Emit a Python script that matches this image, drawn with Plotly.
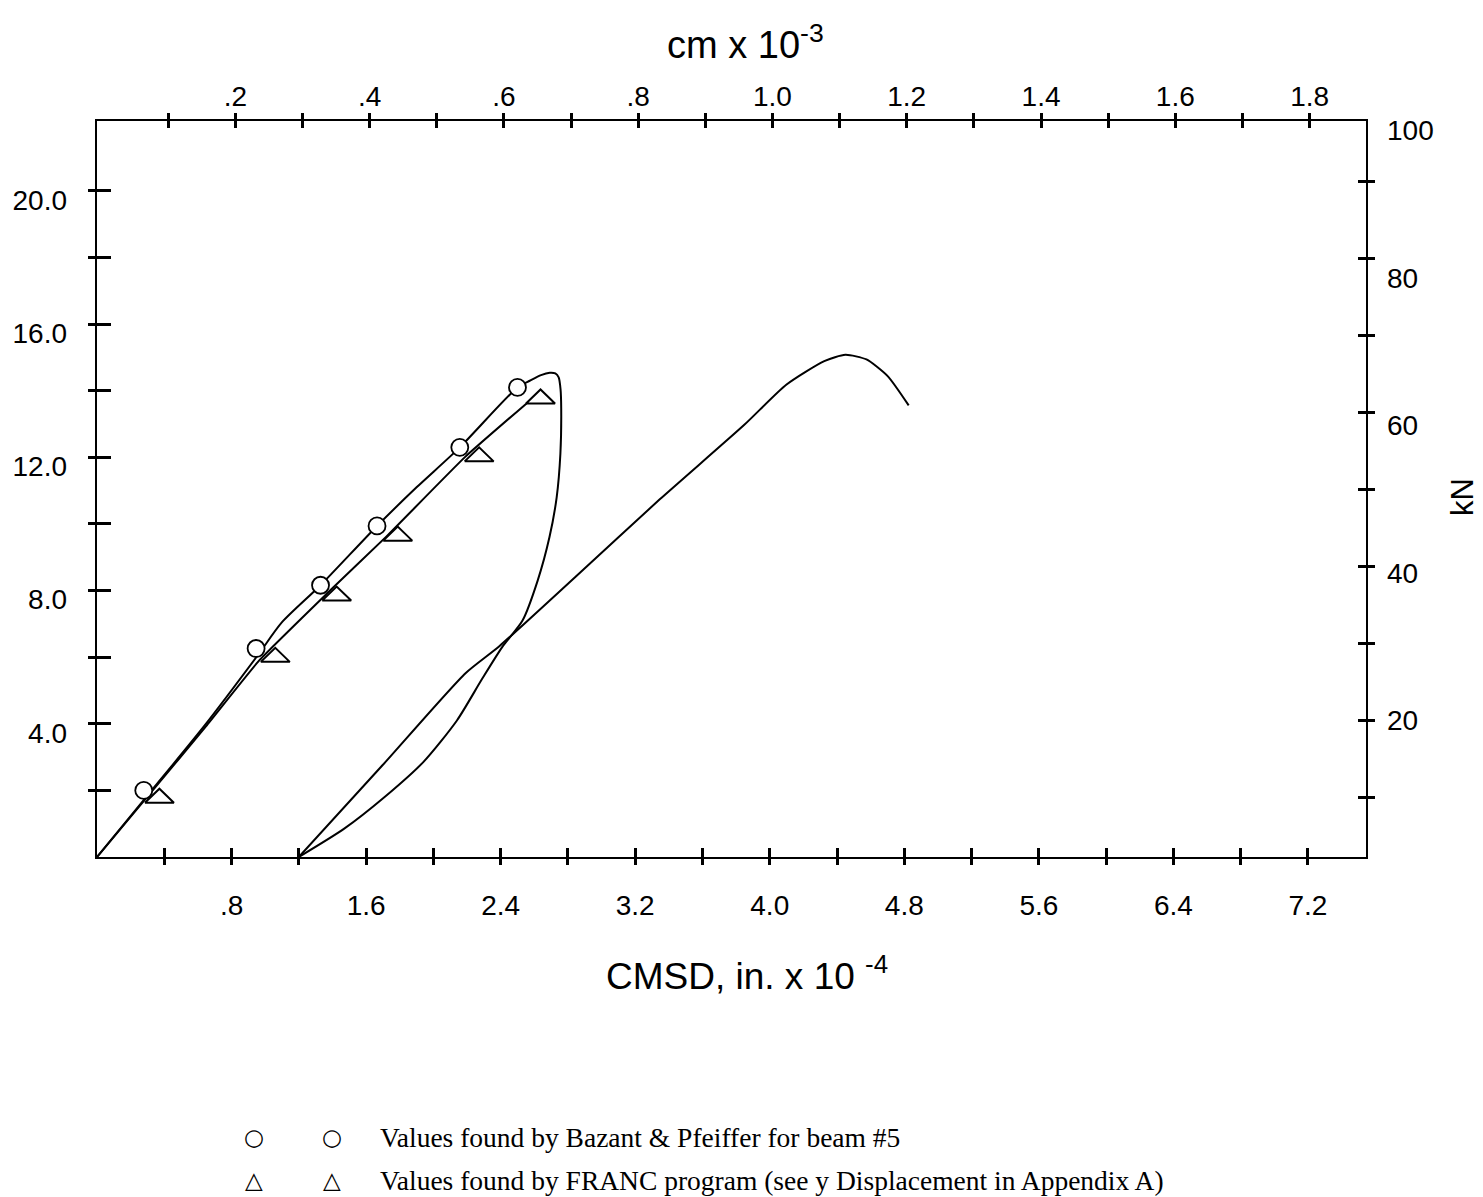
import plotly.graph_objects as go

# ---------------- data (CMSD in x1e-4  vs  load in kips) ----------------
bazant_x = [0.278, 0.946, 1.329, 1.665, 2.157, 2.500]
bazant_y = [2.00, 6.26, 8.16, 9.94, 12.30, 14.10]

franc_x = [0.371, 1.060, 1.425, 1.788, 2.272, 2.637]
franc_y = [1.84, 6.07, 7.91, 9.71, 12.09, 13.83]

# curve through the Bazant values, with the unloading loop
bazant_curve_x = [0.0, 0.325, 0.645, 0.955, 1.10, 1.329, 1.665, 1.90, 2.157, 2.50, 2.573,
                  2.64, 2.692, 2.725, 2.745, 2.756, 2.760, 2.755, 2.733, 2.690, 2.620,
                  2.530, 2.410, 2.290, 2.140, 1.940, 1.710, 1.470, 1.20]
bazant_curve_y = [0.0, 2.00, 3.98, 6.05, 7.05, 8.16, 9.94, 11.10, 12.30, 14.10, 14.30,
                  14.47, 14.54, 14.52, 14.40, 14.05, 13.47, 12.10, 10.80, 9.60, 8.30,
                  7.10, 6.31, 5.35, 4.10, 2.85, 1.80, 0.85, 0.0]

# curve through the FRANC values
franc_curve_x = [0.0, 0.331, 0.649, 0.966, 1.373, 1.720, 2.186, 2.554]
franc_curve_y = [0.0, 2.00, 3.93, 5.91, 7.94, 9.62, 12.00, 13.62]

# reloading curve
reload_x = [1.20, 1.70, 2.191, 2.392, 2.844, 3.346, 3.847, 4.098, 4.324, 4.450, 4.575, 4.701, 4.826]
reload_y = [0.0, 2.77, 5.52, 6.33, 8.41, 10.74, 12.97, 14.18, 14.89, 15.08, 14.94, 14.44, 13.56]

# tick values / labels
bottom_ticks = [0.4, 0.8, 1.2, 1.6, 2.0, 2.4, 2.8, 3.2, 3.6, 4.0, 4.4, 4.8, 5.2, 5.6, 6.0, 6.4, 6.8, 7.2]
bottom_text = ["", ".8", "", "1.6", "", "2.4", "", "3.2", "", "4.0", "", "4.8", "", "5.6", "", "6.4", "", "7.2"]
top_ticks = [0.1, 0.2, 0.3, 0.4, 0.5, 0.6, 0.7, 0.8, 0.9, 1.0, 1.1, 1.2, 1.3, 1.4, 1.5, 1.6, 1.7, 1.8]
top_text = ["", ".2", "", ".4", "", ".6", "", ".8", "", "1.0", "", "1.2", "", "1.4", "", "1.6", "", "1.8"]
left_ticks = [2, 4, 6, 8, 10, 12, 14, 16, 18, 20]
left_label_vals = [4, 8, 12, 16, 20]
left_label_text = ["4.0", "8.0", "12.0", "16.0", "20.0"]
right_ticks = [10, 20, 30, 40, 50, 60, 70, 80, 90]
right_label_vals = [20, 40, 60, 80, 100]
right_label_text = ["20", "40", "60", "80", "100"]

legend_rows = ["Values found by Bazant & Pfeiffer for beam #5",
               "Values found by FRANC program (see y Displacement in Appendix A)"]
legend_syms = ["○", "△"]

# ---------------- layout geometry ----------------
W, H = 1483, 1197
L, R, T, B = 97, 1366, 121, 857


def px_x(p):
    return (p - L) / (R - L)


def px_y(p):
    return (B - p) / (B - T)


X_RANGE = [0.0, 7.545]
Y_RANGE = [0.0, 22.1]
TOP_RANGE = [-0.006, 1.884]
RT_TICK_RANGE = [2.2, 97.9]
RT_LABEL_RANGE = [1.42, 101.3]
LEFT_LABEL_RANGE = [0.27, 22.37]

SANS = "Liberation Sans, Arial, sans-serif"
SERIF = "Liberation Serif, Times New Roman, serif"
TICKFONT = dict(family=SANS, size=28, color="black")

fig = go.Figure()

line_style = dict(color="black", width=2)
fig.add_trace(go.Scatter(x=franc_curve_x, y=franc_curve_y, mode="lines",
                         line=dict(shape="spline", smoothing=0.4, **line_style),
                         showlegend=False, hoverinfo="skip"))
fig.add_trace(go.Scatter(x=bazant_curve_x, y=bazant_curve_y, mode="lines",
                         line=dict(shape="spline", smoothing=0.7, **line_style),
                         showlegend=False, hoverinfo="skip"))
fig.add_trace(go.Scatter(x=reload_x, y=reload_y, mode="lines",
                         line=dict(shape="spline", smoothing=0.6, **line_style),
                         showlegend=False, hoverinfo="skip"))

# flattened open triangles around the FRANC values
hw = 14.5 * (X_RANGE[1] - X_RANGE[0]) / (R - L)
hh = 7.0 * (Y_RANGE[1] - Y_RANGE[0]) / (B - T)
tri_x, tri_y = [], []
for xv, yv in zip(franc_x, franc_y):
    tri_x += [xv - hw, xv + hw, xv, xv - hw, None]
    tri_y += [yv - hh, yv - hh, yv + hh, yv - hh, None]
fig.add_trace(go.Scatter(x=tri_x, y=tri_y, mode="lines",
                         line=dict(color="black", width=2),
                         fill="toself", fillcolor="white",
                         showlegend=False, hoverinfo="skip"))

fig.add_trace(go.Scatter(x=bazant_x, y=bazant_y, mode="markers",
                         marker=dict(symbol="circle", size=17, color="white",
                                     line=dict(color="black", width=1.8)),
                         showlegend=False, hoverinfo="skip"))

# dummy traces so the decorative axes exist
for xa, ya in [("x2", "y"), ("x3", "y"), ("x4", "y"), ("x", "y2"), ("x", "y3"),
               ("x", "y4"), ("x", "y5"), ("x", "y6")]:
    fig.add_trace(go.Scatter(x=[None], y=[None], xaxis=xa, yaxis=ya, mode="lines",
                             showlegend=False, hoverinfo="skip"))

common = dict(showgrid=False, zeroline=False, fixedrange=True, tickcolor="black",
              linecolor="black", tickfont=TICKFONT)

fig.update_layout(
    width=W, height=H,
    margin=dict(l=L, r=W - R, t=T, b=H - B, pad=0),
    paper_bgcolor="white", plot_bgcolor="white",
    showlegend=False,
    xaxis=dict(range=X_RANGE, tickmode="array", tickvals=bottom_ticks, ticktext=bottom_text,
               ticks="outside", ticklen=6, tickwidth=3, showline=True, linewidth=2,
               ticklabelstandoff=16, **common),
    xaxis3=dict(range=X_RANGE, overlaying="x", side="bottom", anchor="y",
                tickmode="array", tickvals=bottom_ticks, showticklabels=False,
                ticks="inside", ticklen=9, tickwidth=3, showline=False, **common),
    xaxis2=dict(range=TOP_RANGE, overlaying="x", side="top", anchor="y",
                tickmode="array", tickvals=top_ticks, ticktext=top_text,
                ticks="inside", ticklen=7, tickwidth=3, showline=True, linewidth=2,
                ticklabelstandoff=2, **common),
    xaxis4=dict(range=TOP_RANGE, overlaying="x", side="top", anchor="y",
                tickmode="array", tickvals=top_ticks, showticklabels=False,
                ticks="outside", ticklen=7, tickwidth=3, showline=False, **common),
    yaxis=dict(range=Y_RANGE, tickmode="array", tickvals=left_ticks, showticklabels=False,
               ticks="outside", ticklen=7, tickwidth=3, showline=True, linewidth=2, **common),
    yaxis2=dict(range=LEFT_LABEL_RANGE, overlaying="y", side="left", anchor="x",
                tickmode="array", tickvals=left_label_vals, ticktext=left_label_text,
                ticks="", showline=False, ticklabelstandoff=29, **common),
    yaxis3=dict(range=Y_RANGE, overlaying="y", side="left", anchor="x",
                tickmode="array", tickvals=left_ticks, showticklabels=False,
                ticks="inside", ticklen=14, tickwidth=3, showline=False, **common),
    yaxis4=dict(range=RT_TICK_RANGE, overlaying="y", side="right", anchor="x",
                tickmode="array", tickvals=right_ticks, showticklabels=False,
                ticks="outside", ticklen=7, tickwidth=3, showline=True, linewidth=2, **common),
    yaxis5=dict(range=RT_TICK_RANGE, overlaying="y", side="right", anchor="x",
                tickmode="array", tickvals=right_ticks, showticklabels=False,
                ticks="inside", ticklen=8, tickwidth=3, showline=False, **common),
    yaxis6=dict(range=RT_LABEL_RANGE, overlaying="y", side="right", anchor="x",
                tickmode="array", tickvals=right_label_vals, ticktext=right_label_text,
                ticks="", showline=False, ticklabelstandoff=20, **common),
)

ann = []
ann.append(dict(text="CMSD, in. x 10 <sup>-4</sup>", x=px_x(747), y=px_y(973),
                xref="paper", yref="paper", xanchor="center", yanchor="middle",
                showarrow=False, font=dict(family=SANS, size=37, color="black")))
ann.append(dict(text="cm x 10<sup>-3</sup>", x=px_x(745), y=px_y(42),
                xref="paper", yref="paper", xanchor="center", yanchor="middle",
                showarrow=False, font=dict(family=SANS, size=38, color="black")))
ann.append(dict(text="kN", x=px_x(1462), y=px_y(497), textangle=-90,
                xref="paper", yref="paper", xanchor="center", yanchor="middle",
                showarrow=False, font=dict(family=SANS, size=31, color="black")))

row_y = [1137, 1180]
for sym, txt, ry in zip(legend_syms, legend_rows, row_y):
    for sx in (254, 332):
        ann.append(dict(text=sym, x=px_x(sx), y=px_y(ry), xref="paper", yref="paper",
                        xanchor="center", yanchor="middle", showarrow=False,
                        font=dict(family="DejaVu Sans", size=23, color="black")))
    ann.append(dict(text=txt, x=px_x(378), y=px_y(ry), xref="paper", yref="paper",
                    xanchor="left", yanchor="middle", showarrow=False,
                    font=dict(family=SERIF, size=27.5, color="black")))

fig.update_layout(annotations=ann)

fig.write_html("out.html")
